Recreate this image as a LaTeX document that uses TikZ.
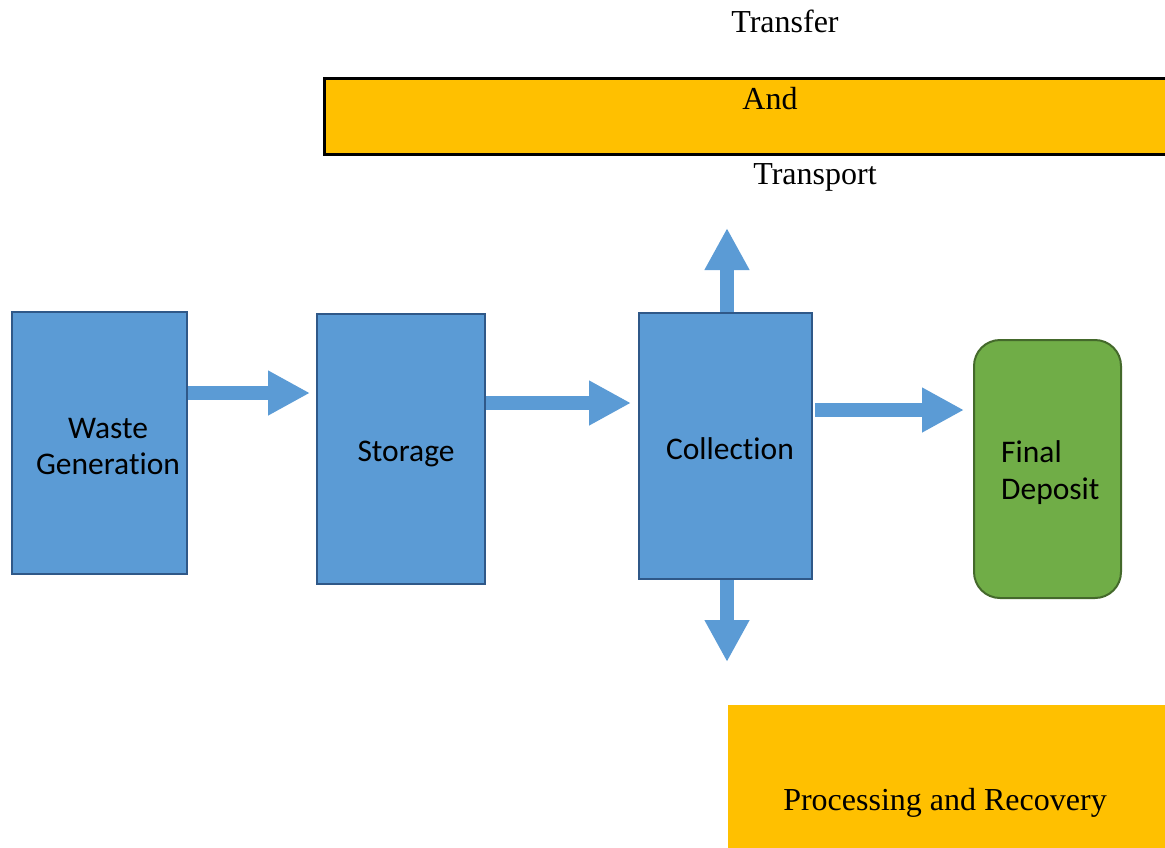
\documentclass[tikz,border=0pt]{standalone}
\usepackage{fontspec}
\setmainfont{Liberation Serif}
\newfontfamily\calib[Ligatures=NoCommon]{Carlito}
\usetikzlibrary{arrows.meta}
\definecolor{blu}{HTML}{5B9BD5}
\definecolor{bluedge}{HTML}{2F5888}
\definecolor{grn}{HTML}{70AD47}
\definecolor{grnedge}{HTML}{44692B}
\definecolor{yel}{HTML}{FFC000}
\tikzset{
  bluebox/.style={draw=bluedge, fill=blu, line width=2pt, inner sep=0pt},
  boxtext/.style={font=\calib\fontsize{31.5}{36}\selectfont, inner sep=0pt, align=left},
  sertext/.style={font=\fontsize{32}{36}\selectfont, inner sep=0pt},
  blockarrow/.style={draw=blu, line width=14pt, line cap=butt, -{Triangle[length=42pt, width=42pt]}}
}
\begin{document}
\begin{tikzpicture}[x=1pt, y=-1pt]
\useasboundingbox (0,0) rectangle (1165,847);
% top band
\node[draw=black, fill=yel, line width=3pt, minimum width=845pt, minimum height=76pt, inner sep=0pt, anchor=north west] (band) at (323,77) {};
\node[sertext] (transfer) at (785,21) {Transfer};
\node[sertext] (and) at (770,99) {And};
\node[sertext] (transport) at (815,177) {Transport};
% boxes
\node[bluebox, minimum width=175pt, minimum height=262pt, anchor=north west] (waste) at (11,311) {};
\node[boxtext, align=center] (wastet) at (108,447) {Waste\\Generation};
\node[bluebox, minimum width=168pt, minimum height=270pt, anchor=north west] (storage) at (316,313) {};
\node[boxtext] (storaget) at (406,454) {Storage};
\node[bluebox, minimum width=173pt, minimum height=266pt, anchor=north west] (collection) at (638,312) {};
\node[boxtext] (collectiont) at (730,449) {Collection};
\node[draw=grnedge, fill=grn, line width=2pt, rounded corners=26pt, minimum width=147pt, minimum height=258pt, anchor=north west] (final) at (973,339) {};
\node[boxtext, anchor=west, font=\calib\fontsize{31.5}{37}\selectfont] (finalt) at (1001,473) {Final\\Deposit};
% bottom band
\node[fill=yel, minimum width=440pt, minimum height=145pt, inner sep=0pt, anchor=north west] (proc) at (728,705) {};
\node[sertext] (proct) at (945,803) {Processing and Recovery};
% arrow tips
\coordinate (t1) at (310,393);
\coordinate (t2) at (631,403);
\coordinate (t3) at (964,410);
\coordinate (tu) at (727,228);
\coordinate (td) at (727,662);
\draw[blockarrow] (waste.east |- t1) -- (t1);
\draw[blockarrow] (storage.east |- t2) -- (t2);
\draw[blockarrow] ([xshift=2pt]collection.east |- t3) -- (t3);
\draw[blockarrow] (collection.north -| tu) -- (tu);
\draw[blockarrow] (collection.south -| td) -- (td);
\end{tikzpicture}
\end{document}
